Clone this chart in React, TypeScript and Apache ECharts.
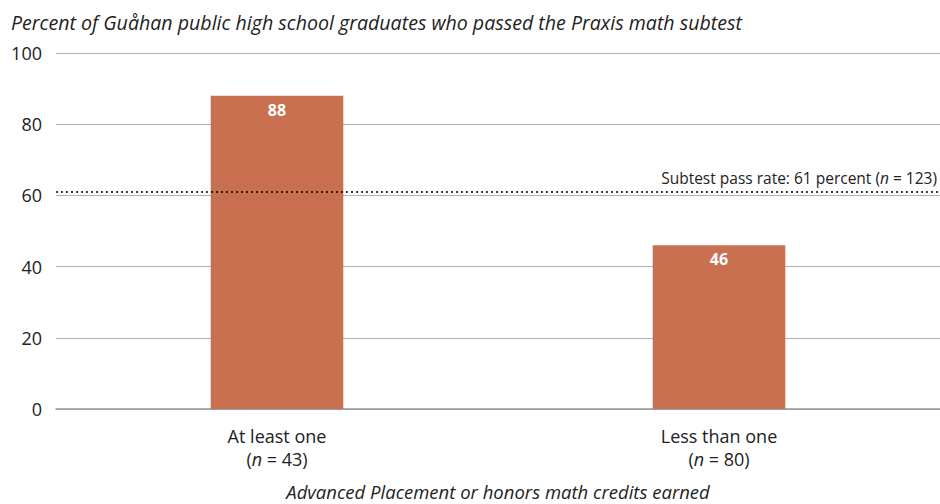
import React, { useEffect, useRef } from "react";
import * as echarts from "echarts";

const categories = ["At least one", "Less than one"];
const sampleSizes = [43, 80];
const passRates = [88, 46];
const overallRate = 61;
const overallN = 123;
const yTicks = { min: 0, max: 100, interval: 20 };

const FONT = "'Open Sans', 'Noto Sans', sans-serif";

export default function App() {
  const ref = useRef<HTMLDivElement>(null);
  useEffect(() => {
    if (!ref.current) return;
    const chart = echarts.init(ref.current, null, { renderer: "svg" });
    chart.setOption({
      animation: false,
      textStyle: { fontFamily: FONT },
      title: {
        text: "Percent of Guåhan public high school graduates who passed the Praxis math subtest",
        left: 6,
        top: 7,
        textStyle: { fontFamily: FONT, fontStyle: "italic", fontWeight: "normal", fontSize: 19.6, color: "#222" },
      },
      grid: { left: 56, right: 0, top: 53, bottom: 95, outerBoundsMode: "none" },
      xAxis: {
        type: "category",
        data: categories.map((c, i) => `${c}\n({i|n} = ${sampleSizes[i]})`),
        axisTick: { show: false },
        axisLine: { lineStyle: { color: "#999", width: 1.5 } },
        axisLabel: {
          margin: 15,
          fontSize: 18,
          color: "#222",
          lineHeight: 23,
          fontFamily: FONT,
          rich: { i: { fontStyle: "italic", fontSize: 18, color: "#222", fontFamily: FONT, lineHeight: 23 } },
        },
        name: "Advanced Placement or honors math credits earned",
        nameLocation: "middle",
        nameGap: 73,
        nameTextStyle: { fontStyle: "italic", fontSize: 18.5, color: "#222", fontFamily: FONT },
      },
      yAxis: {
        type: "value",
        min: yTicks.min,
        max: yTicks.max,
        interval: yTicks.interval,
        axisLine: { show: false },
        axisTick: { show: false },
        axisLabel: { fontSize: 18, color: "#222", margin: 14, fontFamily: FONT },
        splitLine: { lineStyle: { color: "#b0b0b0", width: 1 } },
      },
      series: [
        {
          type: "bar",
          data: passRates,
          barWidth: "30%",
          itemStyle: { color: "#C8704F" },
          label: {
            show: true,
            position: "insideTop",
            distance: 6,
            color: "#fff",
            fontWeight: "bold",
            fontSize: 16,
            fontFamily: FONT,
          },
          markLine: {
            symbol: "none",
            silent: true,
            data: [{ yAxis: overallRate }],
            lineStyle: { type: [2, 3], color: "#000", width: 1.5 },
            label: {
              position: "insideEndTop",
              formatter: `Subtest pass rate: ${overallRate} percent ({i|n} = ${overallN})`,
              fontSize: 15.5,
              color: "#222",
              fontFamily: FONT,
              distance: [3, 6],
              rich: { i: { fontStyle: "italic", fontSize: 15.5, color: "#222", fontFamily: FONT } },
            },
          },
        },
      ],
    });
    return () => chart.dispose();
  }, []);
  return (
    <div
      ref={ref}
      style={{ position: "fixed", left: 0, top: 0, width: 940, height: 504, background: "#fff" }}
    />
  );
}
